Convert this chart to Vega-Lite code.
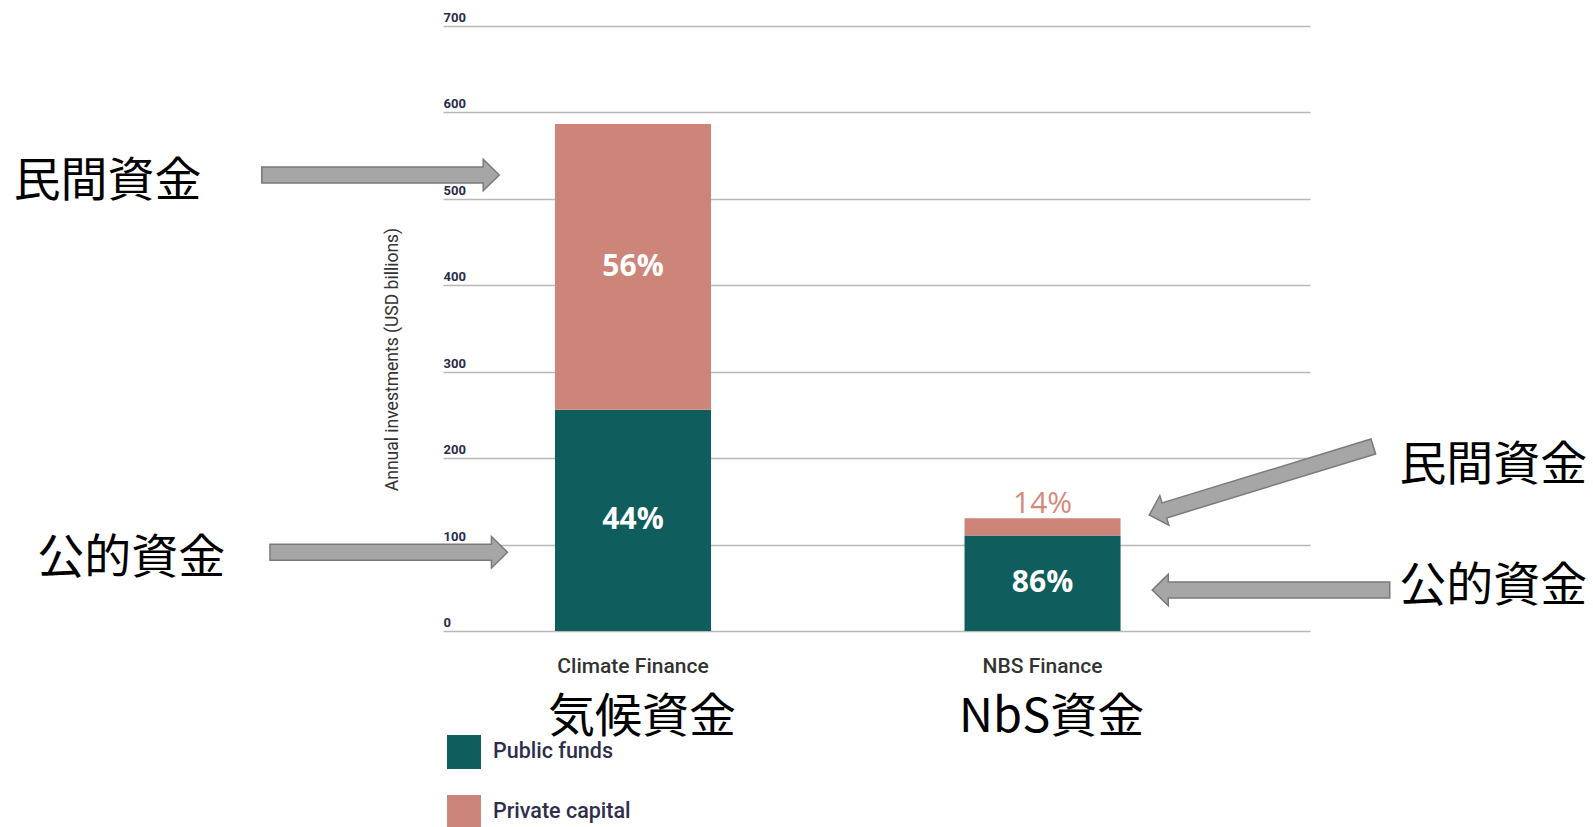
{
  "$schema": "https://vega.github.io/schema/vega-lite/v6.json",
  "autosize": {"type": "none"},
  "padding": {"left": 443, "top": 26, "right": 283, "bottom": 196},
  "width": 867,
  "height": 605,
  "background": "white",
  "config": {"view": {"stroke": null}},
  "datasets": {
    "finance": [
      {"fund": "Climate Finance", "type": "Public funds", "value": 256, "label": "44%", "placement": "inside"},
      {"fund": "Climate Finance", "type": "Private capital", "value": 330.5, "label": "56%", "placement": "inside"},
      {"fund": "NBS Finance", "type": "Public funds", "value": 110.5, "label": "86%", "placement": "inside"},
      {"fund": "NBS Finance", "type": "Private capital", "value": 20, "label": "14%", "placement": "above"}
    ],
    "notes": [
      {"text": "民間資金", "u": -38.7, "v": 519.5},
      {"text": "公的資金", "u": -35.95, "v": 83.7},
      {"text": "民間資金", "u": 121.14, "v": 191.0},
      {"text": "公的資金", "u": 121.14, "v": 51.3},
      {"text": "気候資金", "u": 22.95, "v": -100.5},
      {"text": "NbS資金", "u": 70.2, "v": -100.5}
    ],
    "arrows": [
      {"from": "left", "target": "Climate private", "u": -7.21, "v": 527.6},
      {"from": "left", "target": "Climate public", "u": -6.26, "v": 91.1},
      {"from": "right", "target": "NBS public", "u": 95.5, "v": 47.4},
      {"from": "right", "target": "NBS private", "u": 94.38, "v": 173.8}
    ]
  },
  "resolve": {"scale": {"x": "independent"}},
  "layer": [
    {
      "layer": [
        {
          "data": {"name": "finance"},
          "mark": {"type": "bar"},
          "encoding": {
            "x": {
              "field": "fund", "type": "nominal", "title": null,
              "sort": ["Climate Finance", "NBS Finance"],
              "scale": {"paddingInner": 0.619, "paddingOuter": 0.368, "align": 0.3715},
              "axis": {"title": null, "domain": false, "ticks": false, "labelAngle": 0, "labelFont": "Roboto", "labelFontSize": 21, "labelFontWeight": 500, "labelColor": "#333333", "labelPadding": 24}
            },
            "y": {
              "field": "value", "type": "quantitative", "stack": "zero",
              "title": "Annual investments (USD billions)",
              "scale": {"domain": [0, 700], "nice": false},
              "axis": {
                "values": [0, 100, 200, 300, 400, 500, 600, 700],
                "domain": false, "ticks": false, "tickSize": 0,
                "labelAlign": "left", "labelBaseline": "alphabetic", "labelOffset": -4.5, "labelPadding": 0,
                "labelFont": "Roboto", "labelFontSize": 13, "labelFontWeight": "bold", "labelColor": "#2b2b4a",
                "gridColor": "#b8b8b8", "gridWidth": 1.6,
                "title": "Annual investments (USD billions)",
                "titleFont": "Roboto", "titleFontSize": 17.5, "titleFontWeight": "normal", "titleColor": "#333333",
                "titleX": -51, "titleY": 333, "titleAngle": -90, "titleAlign": "center", "titleBaseline": "middle"
              }
            },
            "color": {
              "field": "type", "type": "nominal",
              "scale": {"domain": ["Public funds", "Private capital"], "range": ["#105d5e", "#cd8579"]},
              "legend": {
                "orient": "none", "legendX": 4, "legendY": 709, "title": null, "direction": "vertical",
                "symbolType": "square", "symbolSize": 1156, "symbolStrokeWidth": 0, "symbolOpacity": 1,
                "labelFont": "Roboto", "labelFontSize": 21.5, "labelFontWeight": 500, "labelColor": "#2e2e4c",
                "labelOffset": 12, "rowPadding": 26, "padding": 0
              }
            },
            "order": {"field": "type", "sort": "descending"}
          }
        },
        {
          "data": {"name": "finance"},
          "mark": {"type": "text", "font": "Open Sans", "fontSize": 30, "fontWeight": "bold", "color": "white", "align": "center", "baseline": "middle"},
          "encoding": {
            "x": {"field": "fund", "type": "nominal", "title": null, "sort": ["Climate Finance", "NBS Finance"]},
            "y": {"field": "value", "type": "quantitative", "stack": "zero", "bandPosition": 0.5, "title": "Annual investments (USD billions)", "scale": {"domain": [0, 700], "nice": false}},
            "detail": {"field": "type", "type": "nominal"},
            "order": {"field": "type", "sort": "descending"},
            "text": {"field": "label", "type": "nominal"},
            "opacity": {"condition": {"test": "datum.placement === 'inside'", "value": 1}, "value": 0}
          }
        },
        {
          "data": {"name": "finance"},
          "mark": {"type": "text", "font": "Open Sans", "fontSize": 30, "fontWeight": 500, "color": "#d4897c", "align": "center", "baseline": "alphabetic", "dy": -5},
          "encoding": {
            "x": {"field": "fund", "type": "nominal", "title": null, "sort": ["Climate Finance", "NBS Finance"]},
            "y": {"field": "value", "type": "quantitative", "stack": "zero", "bandPosition": 1, "title": "Annual investments (USD billions)", "scale": {"domain": [0, 700], "nice": false}},
            "detail": {"field": "type", "type": "nominal"},
            "order": {"field": "type", "sort": "descending"},
            "text": {"field": "label", "type": "nominal"},
            "opacity": {"condition": {"test": "datum.placement === 'above'", "value": 1}, "value": 0}
          }
        }
      ]
    },
    {
      "layer": [
        {
          "data": {"name": "notes"},
          "mark": {"type": "text", "font": "Noto Sans CJK JP", "fontSize": 47, "color": "#000000", "align": "center", "baseline": "middle"},
          "encoding": {
            "x": {"field": "u", "type": "quantitative", "scale": {"domain": [0, 100], "nice": false, "zero": false}, "axis": null},
            "y": {"field": "v", "type": "quantitative", "title": "Annual investments (USD billions)", "scale": {"domain": [0, 700], "nice": false}},
            "text": {"field": "text", "type": "nominal"}
          }
        },
        {
          "data": {"name": "arrows"},
          "transform": [{"filter": "datum.from === 'left'"}],
          "mark": {"type": "point", "shape": "M-1,-0.067L0.865,-0.067L0.865,-0.132L1,0L0.865,0.132L0.865,0.067L-1,0.067Z", "size": 56406, "angle": 0, "filled": true, "fill": "#a6a6a6", "stroke": "#7a7a7a", "strokeWidth": 1.5, "opacity": 1},
          "encoding": {
            "x": {"field": "u", "type": "quantitative", "scale": {"domain": [0, 100], "nice": false, "zero": false}, "axis": null},
            "y": {"field": "v", "type": "quantitative", "title": "Annual investments (USD billions)", "scale": {"domain": [0, 700], "nice": false}}
          }
        },
        {
          "data": {"name": "arrows"},
          "transform": [{"filter": "datum.target === 'NBS public'"}],
          "mark": {"type": "point", "shape": "M-1,-0.067L0.865,-0.067L0.865,-0.132L1,0L0.865,0.132L0.865,0.067L-1,0.067Z", "size": 56406, "angle": 180, "filled": true, "fill": "#a6a6a6", "stroke": "#7a7a7a", "strokeWidth": 1.5, "opacity": 1},
          "encoding": {
            "x": {"field": "u", "type": "quantitative", "scale": {"domain": [0, 100], "nice": false, "zero": false}, "axis": null},
            "y": {"field": "v", "type": "quantitative", "title": "Annual investments (USD billions)", "scale": {"domain": [0, 700], "nice": false}}
          }
        },
        {
          "data": {"name": "arrows"},
          "transform": [{"filter": "datum.target === 'NBS private'"}],
          "mark": {"type": "point", "shape": "M-1,-0.067L0.865,-0.067L0.865,-0.132L1,0L0.865,0.132L0.865,0.067L-1,0.067Z", "size": 54900, "angle": 163, "filled": true, "fill": "#a6a6a6", "stroke": "#7a7a7a", "strokeWidth": 1.5, "opacity": 1},
          "encoding": {
            "x": {"field": "u", "type": "quantitative", "scale": {"domain": [0, 100], "nice": false, "zero": false}, "axis": null},
            "y": {"field": "v", "type": "quantitative", "title": "Annual investments (USD billions)", "scale": {"domain": [0, 700], "nice": false}}
          }
        }
      ]
    }
  ]
}
